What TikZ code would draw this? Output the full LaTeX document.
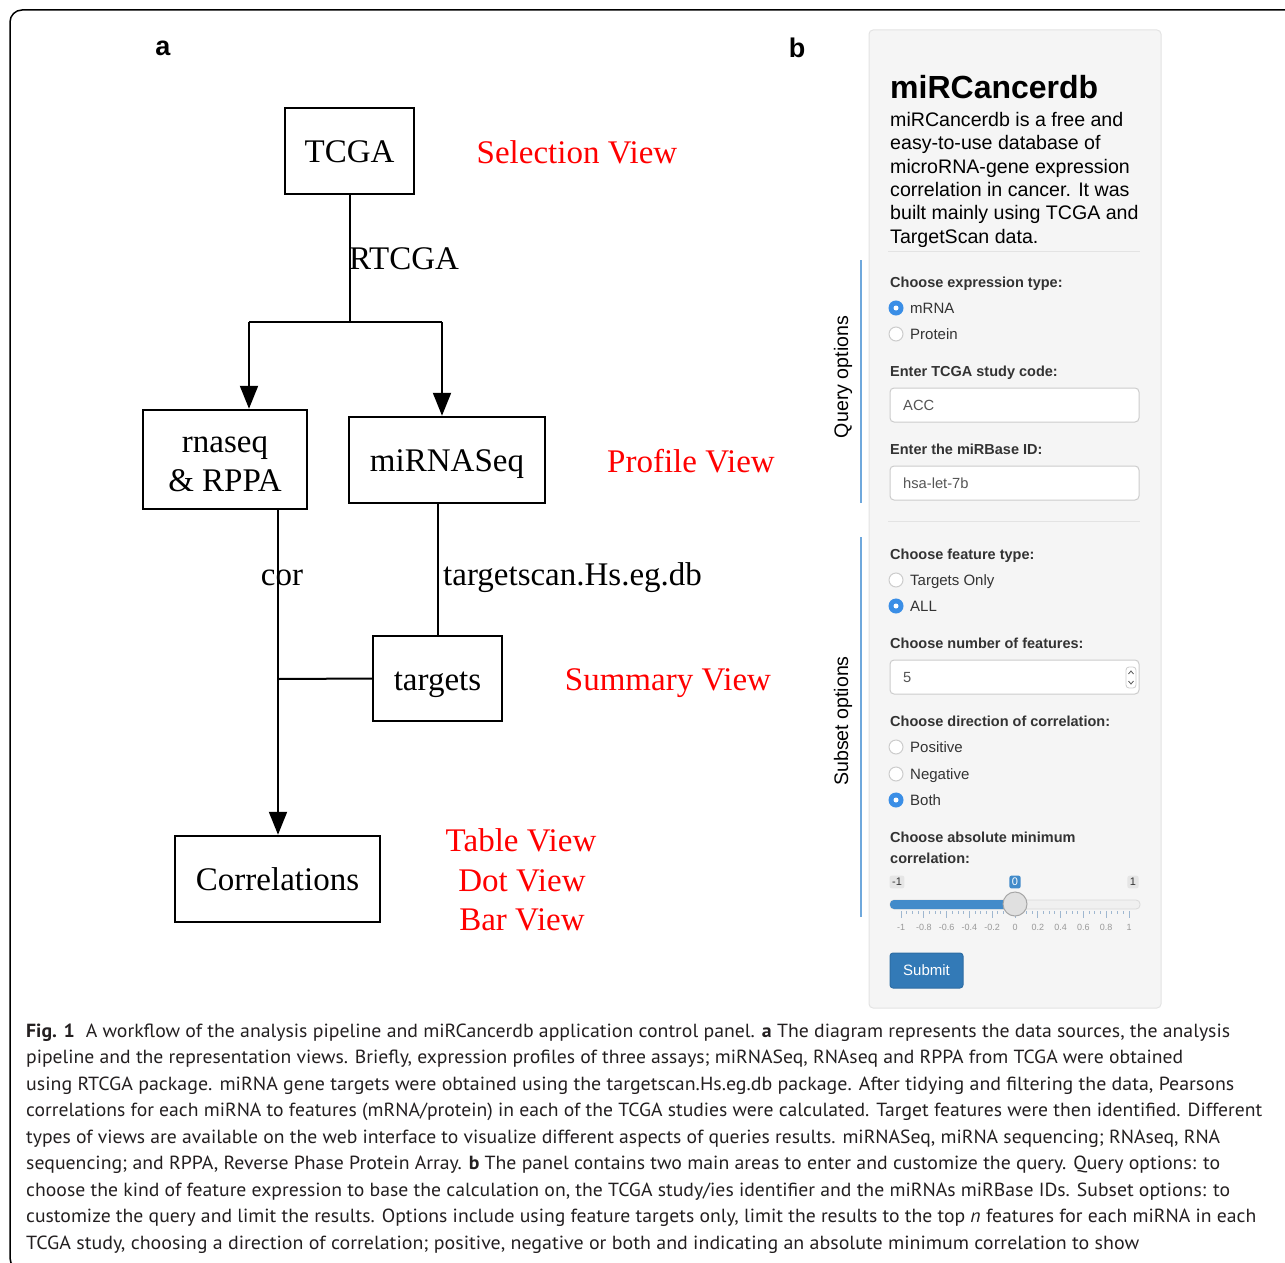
\documentclass[tikz,border=0pt]{standalone}
\usepackage{fontspec}
\setmainfont{Liberation Serif}
\newfontfamily\arialf{Liberation Sans}
\newfontfamily\capf{PT Sans}
\usetikzlibrary{arrows.meta}
\definecolor{panelgray}{HTML}{F5F5F5}
\definecolor{panelline}{HTML}{E3E3E3}
\definecolor{inputline}{HTML}{CCCCCC}
\definecolor{radioblue}{HTML}{3A8EE6}
\definecolor{sidebl}{HTML}{6FA8DC}
\definecolor{slblue}{HTML}{428BCA}
\definecolor{btnblue}{HTML}{337AB7}
\definecolor{btnline}{HTML}{2E6DA4}
\definecolor{formtext}{HTML}{333333}
\definecolor{inputtext}{HTML}{555555}
\definecolor{tickgray}{HTML}{999999}
\definecolor{tickbl}{HTML}{9FB7D0}
\definecolor{captext}{HTML}{231F20}
\tikzset{
  gbox/.style={draw=black, line width=2.5pt, inner sep=0pt, text height=23pt, text depth=0pt, font=\fontsize{33}{39}\selectfont},
  gedge/.style={draw=black, line width=2pt},
  garrow/.style={gedge, -{Triangle[length=23pt,width=18pt]}},
  glabel/.style={inner sep=0pt, text height=23pt, text depth=0pt, font=\fontsize{33}{39}\selectfont},
  redlabel/.style={inner sep=0pt, text=red, text height=23pt, text depth=0pt, font=\fontsize{33}{39}\selectfont},
  panelletter/.style={inner sep=0pt, font=\arialf\bfseries\fontsize{27}{30}\selectfont},
  ftitle/.style={inner sep=0pt, anchor=base west, font=\arialf\bfseries\fontsize{32}{36}\selectfont},
  fdesc/.style={inner sep=0pt, anchor=base west, font=\arialf\fontsize{19.6}{23}\selectfont},
  flabel/.style={inner sep=0pt, anchor=base west, text=formtext, font=\arialf\bfseries\fontsize{14.5}{17}\selectfont},
  fopt/.style={inner sep=0pt, anchor=base west, text=formtext, font=\arialf\fontsize{15}{17}\selectfont},
  finput/.style={draw=inputline, fill=white, rounded corners=4pt, line width=1pt},
  fintext/.style={inner sep=0pt, anchor=base west, text=inputtext, font=\arialf\fontsize{14.7}{17}\selectfont},
  radiooff/.style={circle, draw=inputline, fill=white, line width=1pt, minimum size=14pt, inner sep=0pt},
  radioon/.style={circle, draw=radioblue, fill=radioblue, line width=1pt, minimum size=14pt, inner sep=0pt},
  sidetext/.style={inner sep=0pt, rotate=90, font=\arialf\fontsize{19.6}{23}\selectfont},
  sideline/.style={draw=sidebl, line width=1.5pt},
  ticklab/.style={inner sep=0pt, text=tickgray, font=\arialf\fontsize{9}{10}\selectfont},
  slabel/.style={rounded corners=2pt, inner sep=2.5pt, font=\arialf\fontsize{11}{12}\selectfont},
  caption/.style={inner sep=0pt, anchor=base west, text=captext, font=\capf\fontsize{19}{23}\selectfont},
}
\begin{document}
\begin{tikzpicture}[x=1pt,y=-1pt]
\useasboundingbox (0,0) rectangle (1285,1263);
\clip (0,0) rectangle (1285,1263);
% outer frame
\draw[line width=1.5pt, rounded corners=12pt] (1300,10) -- (10,10) -- (10,1270) -- (60,1270);

% ---------- panel a ----------
\node[panelletter] (la) at (163,48) {a};
\node[panelletter] (lb) at (797,48) {b};

\node[gbox, minimum width=129pt, minimum height=86pt] (tcga) at (349.5,151) {TCGA};
\node[gbox, minimum width=164pt, minimum height=99pt, align=center, text height=63pt, text depth=0pt] (rna) at (225,459.5) {rnaseq\\\& RPPA};
\node[gbox, minimum width=196pt, minimum height=86pt] (mir) at (447,460) {miRNASeq};
\node[gbox, minimum width=129pt, minimum height=85pt] (targets) at (437.5,678.5) {targets};
\node[gbox, minimum width=205pt, minimum height=86pt] (corr) at (277.5,879) {Correlations};

\coordinate (split) at (349.5,322);
\coordinate (sl) at (249,322);
\coordinate (sr) at (442,322);
\coordinate (cj) at (278,679);

\draw[gedge] (tcga.south) -- (split);
\draw[gedge] (sl) -- (sr);
\draw[garrow] (sl) -- (sl |- rna.north);
\draw[garrow] (sr) -- (sr |- mir.north);
\draw[garrow] (cj |- rna.south) -- (cj |- corr.north);
\draw[gedge] (targets.north |- mir.south) -- (targets.north);
\draw[gedge] (targets.west) -- (cj);

\node[glabel, anchor=west] (lrtcga) at (349,258) {RTCGA};
\node[glabel] (lcor) at (282,574) {cor};
\node[glabel, anchor=west] (lts) at (443,574) {targetscan.Hs.eg.db};

\node[redlabel] (vsel) at (577,152) {Selection View};
\node[redlabel] (vprof) at (691,461) {Profile View};
\node[redlabel] (vsum) at (668,679) {Summary View};
\node[redlabel] (vtab) at (521,840) {Table View};
\node[redlabel] (vdot) at (522,880) {Dot View};
\node[redlabel] (vbar) at (522,919) {Bar View};

% ---------- panel b ----------
\draw[fill=panelgray, draw=panelline, line width=1pt, rounded corners=4pt] (869,30) rectangle (1161,1008);

\node[ftitle] (title) at (890,98) {miRCancerdb};
\node[fdesc] (d1) at (890,126) {miRCancerdb is a free and};
\node[fdesc] (d2) at (890,149.5) {easy-to-use database of};
\node[fdesc] (d3) at (890,173) {microRNA-gene expression};
\node[fdesc] (d4) at (890,196) {correlation in cancer. It was};
\node[fdesc] (d5) at (890,219.5) {built mainly using TCGA and};
\node[fdesc] (d6) at (890,243) {TargetScan data.};
\draw[panelline, line width=1pt] (888,251) -- (1140,251);
\draw[panelline, line width=1pt] (888,521) -- (1140,521);

% query options
\draw[sideline] (861,260) -- (861,503);
\node[sidetext] (qopt) at (843,377) {Query options};

\node[flabel] (l1) at (890,287) {Choose expression type:};
\node[radioon] (r1) at (896,308) {};
\fill[white] (r1.center) circle (2.5pt);
\node[fopt] (o1) at (910,313) {mRNA};
\node[radiooff] (r2) at (896,334) {};
\node[fopt] (o2) at (910,339) {Protein};

\node[flabel] (l2) at (890,376) {Enter TCGA study code:};
\draw[finput] (890,388) rectangle (1139,422);
\node[fintext] (i1) at (903,410) {ACC};

\node[flabel] (l3) at (890,454) {Enter the miRBase ID:};
\draw[finput] (890,466) rectangle (1139,500);
\node[fintext] (i2) at (903,488) {hsa-let-7b};

% subset options
\draw[sideline] (861,537) -- (861,917);
\node[sidetext] (sopt) at (843,721) {Subset options};

\node[flabel] (l4) at (890,559) {Choose feature type:};
\node[radiooff] (r3) at (896,580) {};
\node[fopt] (o3) at (910,585) {Targets Only};
\node[radioon] (r4) at (896,606) {};
\fill[white] (r4.center) circle (2.5pt);
\node[fopt] (o4) at (910,611) {ALL};

\node[flabel] (l5) at (890,648) {Choose number of features:};
\draw[finput] (890,660) rectangle (1139,694);
\node[fintext] (i3) at (903,682) {5};
\draw[inputline, line width=0.8pt, rounded corners=3pt] (1126,667) rectangle (1136,688);
\draw[inputtext, line width=0.8pt] (1128.5,674) -- (1131,671) -- (1133.5,674);
\draw[inputtext, line width=0.8pt] (1128.5,681) -- (1131,684) -- (1133.5,681);

\node[flabel] (l6) at (890,726) {Choose direction of correlation:};
\node[radiooff] (r5) at (896,747) {};
\node[fopt] (o5) at (910,752) {Positive};
\node[radiooff] (r6) at (896,774) {};
\node[fopt] (o6) at (910,779) {Negative};
\node[radioon] (r7) at (896,800) {};
\fill[white] (r7.center) circle (2.5pt);
\node[fopt] (o7) at (910,805) {Both};

\node[flabel] (l7) at (890,842) {Choose absolute minimum};
\node[flabel] (l8) at (890,863) {correlation:};

% slider
\node[slabel, fill=black!10, text=formtext] (smin) at (897,882) {-1};
\node[slabel, fill=slblue, text=white] (sval) at (1015,882) {0};
\node[slabel, fill=black!10, text=formtext] (smax) at (1133,882) {1};
\draw[fill=black!6, draw=black!15, line width=0.8pt, rounded corners=4pt] (890,900) rectangle (1140,909);
\fill[slblue, rounded corners=4pt] (890,900) rectangle (1015,909);
\foreach \i in {0,...,40} {
  \pgfmathsetmacro\tx{901+5.7*\i}
  \draw[tickbl, line width=1pt] (\tx,911) -- (\tx,914);
}
\foreach \i in {0,...,10} {
  \pgfmathsetmacro\tx{901+22.8*\i}
  \draw[tickbl, line width=1pt] (\tx,911) -- (\tx,918);
}
\node[circle, fill=black!12, draw=black!35, line width=1pt, minimum size=24pt, inner sep=0pt] (handle) at (1015,904) {};
\foreach \v [count=\i from 0] in {-1,-0.8,-0.6,-0.4,-0.2,0,0.2,0.4,0.6,0.8,1} {
  \pgfmathsetmacro\tx{901+22.8*\i}
  \node[ticklab] at (\tx,927) {\v};
}

% submit
\node[fill=btnblue, draw=btnline, line width=1pt, rounded corners=3pt, minimum width=73pt, minimum height=35pt, inner sep=0pt, text=white, font=\arialf\fontsize{15}{17}\selectfont] (submit) at (926.5,970.5) {Submit};

% ---------- caption ----------
\node[caption] (c1) at (26,1037) {\resizebox{1204pt}{\height}{\textbf{Fig. 1}\hspace{0.55em}A workflow of the analysis pipeline and miRCancerdb application control panel. \textbf{a} The diagram represents the data sources, the analysis}};
\node[caption] (c2) at (26,1063.5) {\resizebox{1157pt}{\height}{pipeline and the representation views. Briefly, expression profiles of three assays; miRNASeq, RNAseq and RPPA from TCGA were obtained}};
\node[caption] (c3) at (26,1090) {\resizebox{1208pt}{\height}{using RTCGA package. miRNA gene targets were obtained using the targetscan.Hs.eg.db package. After tidying and filtering the data, Pearsons}};
\node[caption] (c4) at (26,1116.5) {\resizebox{1236pt}{\height}{correlations for each miRNA to features (mRNA/protein) in each of the TCGA studies were calculated. Target features were then identified. Different}};
\node[caption] (c5) at (26,1143) {\resizebox{1194pt}{\height}{types of views are available on the web interface to visualize different aspects of queries results. miRNASeq, miRNA sequencing; RNAseq, RNA}};
\node[caption] (c6) at (26,1169.5) {\resizebox{1194pt}{\height}{sequencing; and RPPA, Reverse Phase Protein Array. \textbf{b} The panel contains two main areas to enter and customize the query. Query options: to}};
\node[caption] (c7) at (26,1196) {\resizebox{1204pt}{\height}{choose the kind of feature expression to base the calculation on, the TCGA study/ies identifier and the miRNAs miRBase IDs. Subset options: to}};
\node[caption] (c8) at (26,1222.5) {\resizebox{1230pt}{\height}{customize the query and limit the results. Options include using feature targets only, limit the results to the top \textit{n} features for each miRNA in each}};
\node[caption] (c9) at (26,1249) {\resizebox{1113pt}{\height}{TCGA study, choosing a direction of correlation; positive, negative or both and indicating an absolute minimum correlation to show}};
\end{tikzpicture}
\end{document}
